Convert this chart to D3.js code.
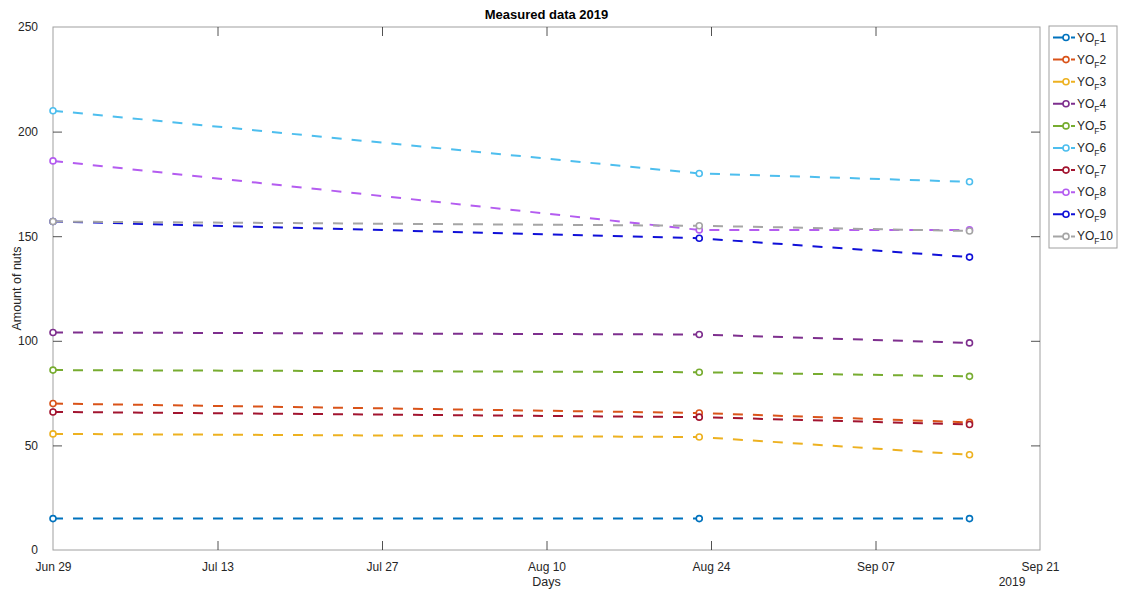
<!DOCTYPE html>
<html>
<head>
<meta charset="utf-8">
<script src="https://cdn.jsdelivr.net/npm/d3@7"></script>
<style>
  html, body { margin: 0; padding: 0; background: #fff; }
  svg { display: block; font-family: "Liberation Sans", Arial, sans-serif; }
</style>
</head>
<body>
<svg id="chart" width="1122" height="590"></svg>
<script>
// Measurement dates (2019)
const dates = ["2019-06-29", "2019-08-23", "2019-09-15"];
const seriesNames = ["1", "2", "3", "4", "5", "6", "7", "8", "9", "10"];
const seriesColors = ["#0072BD", "#D95319", "#EDB120", "#7E2F8E", "#77AC30",
                      "#4DBEEE", "#A2142F", "#B45CF0", "#1010D8", "#A5A5A5"];
// Amount of nuts per series at each date
const yo1 = [15, 15, 15];
const yo2 = [70, 65.5, 61];
const yo3 = [55.5, 54, 45.5];
const yo4 = [104, 103, 99];
const yo5 = [86, 85, 83];
const yo6 = [210, 180, 176];
const yo7 = [66, 63.5, 60];
const yo8 = [186, 153, 153];
const yo9 = [157, 149, 140];
const yo10 = [157, 155, 152.5];
const seriesValues = [yo1, yo2, yo3, yo4, yo5, yo6, yo7, yo8, yo9, yo10];
const xTickDates = ["2019-06-29", "2019-07-13", "2019-07-27", "2019-08-10", "2019-08-24", "2019-09-07", "2019-09-21"];
const yTicks = [0, 50, 100, 150, 200, 250];

const parse = d3.timeParse("%Y-%m-%d");
const svg = d3.select("#chart");
const m = { left: 53, right: 1040, top: 27, bottom: 550 };

const x = d3.scaleTime()
  .domain([parse("2019-06-29"), parse("2019-09-21")])
  .range([m.left, m.right]);
const y = d3.scaleLinear().domain([0, 250]).range([m.bottom, m.top]);

const axisColor = "#262626";
const tickLen = 9;

// Plot box
svg.append("rect")
  .attr("x", m.left).attr("y", m.top)
  .attr("width", m.right - m.left).attr("height", m.bottom - m.top)
  .attr("fill", "#fff").attr("stroke", "#a0a0a0").attr("stroke-width", 1);

// Y axis (ticks pointing inward on both sides)
const yAxis = svg.append("g").attr("transform", `translate(${m.left},0)`)
  .call(d3.axisLeft(y).tickValues(yTicks).tickSize(-tickLen).tickPadding(6 + tickLen));
const yAxisR = svg.append("g").attr("transform", `translate(${m.right},0)`)
  .call(d3.axisRight(y).tickValues(yTicks).tickSize(-tickLen).tickFormat(""));
// X axis
const xAxis = svg.append("g").attr("transform", `translate(0,${m.bottom})`)
  .call(d3.axisBottom(x).tickValues(xTickDates.map(parse)).tickSize(-tickLen)
    .tickPadding(3 + tickLen).tickFormat(d3.timeFormat("%b %d")));
const xAxisT = svg.append("g").attr("transform", `translate(0,${m.top})`)
  .call(d3.axisTop(x).tickValues(xTickDates.map(parse)).tickSize(-tickLen).tickFormat(""));

[yAxis, yAxisR, xAxis, xAxisT].forEach(g => {
  g.select(".domain").remove();
  g.selectAll(".tick line").attr("stroke", axisColor).attr("stroke-width", 0.8);
  g.selectAll(".tick text").attr("fill", axisColor).attr("font-size", 12)
    .attr("font-family", "'Liberation Sans', Arial, sans-serif");
});
// Ticks at the box corners are hidden by the frame
yAxis.selectAll(".tick").filter(d => d === 0 || d === 250).select("line").remove();
yAxisR.selectAll(".tick").filter(d => d === 0 || d === 250).select("line").remove();
xAxis.selectAll(".tick").filter((d, i) => i === 0 || i === xTickDates.length - 1).select("line").remove();
xAxisT.selectAll(".tick").filter((d, i) => i === 0 || i === xTickDates.length - 1).select("line").remove();

// Axis labels and title
svg.append("text").attr("x", (m.left + m.right) / 2).attr("y", 19)
  .attr("text-anchor", "middle").attr("font-size", 13).attr("font-weight", "bold")
  .attr("fill", "#000").text("Measured data 2019");
svg.append("text").attr("x", (m.left + m.right) / 2).attr("y", 586)
  .attr("text-anchor", "middle").attr("font-size", 12.5).attr("fill", axisColor).text("Days");
svg.append("text").attr("x", 1012).attr("y", 586)
  .attr("text-anchor", "middle").attr("font-size", 12).attr("fill", axisColor).text("2019");
svg.append("text")
  .attr("transform", `translate(21,${(m.top + m.bottom) / 2}) rotate(-90)`)
  .attr("text-anchor", "middle").attr("font-size", 12.5).attr("fill", axisColor).text("Amount of nuts");

// Series lines and markers
const line = d3.line().x(d => x(d.date)).y(d => y(d.value));
const data = seriesValues.map((vals, i) => ({
  name: seriesNames[i], color: seriesColors[i],
  points: vals.map((v, j) => ({ date: parse(dates[j]), value: v }))
}));

const plot = svg.append("g");
data.forEach(s => {
  plot.append("path").datum(s.points)
    .attr("d", line).attr("fill", "none")
    .attr("stroke", s.color).attr("stroke-width", 2)
    .attr("stroke-dasharray", "10,10");
  plot.selectAll(null).data(s.points).enter().append("circle")
    .attr("cx", d => x(d.date)).attr("cy", d => y(d.value)).attr("r", 3)
    .attr("fill", "#fff").attr("stroke", s.color).attr("stroke-width", 1.6);
});

// Legend
const lg = svg.append("g");
lg.append("rect").attr("x", 1049).attr("y", 26).attr("width", 68).attr("height", 222)
  .attr("fill", "#fff").attr("stroke", "#a0a0a0").attr("stroke-width", 1);
data.forEach((s, i) => {
  const yy = 37.5 + i * 22.1;
  lg.append("line").attr("x1", 1053).attr("x2", 1075).attr("y1", yy).attr("y2", yy)
    .attr("stroke", s.color).attr("stroke-width", 2).attr("stroke-dasharray", "14,4,4,40");
  lg.append("circle").attr("cx", 1066).attr("cy", yy).attr("r", 3)
    .attr("fill", "#fff").attr("stroke", s.color).attr("stroke-width", 1.6);
  const t = lg.append("text").attr("x", 1077).attr("y", yy + 4)
    .attr("font-size", 12).attr("fill", axisColor);
  t.append("tspan").text("YO");
  t.append("tspan").attr("dy", 4).attr("font-size", 8.5).text("F");
  t.append("tspan").attr("dy", -4).text(s.name);
});
</script>
</body>
</html>
